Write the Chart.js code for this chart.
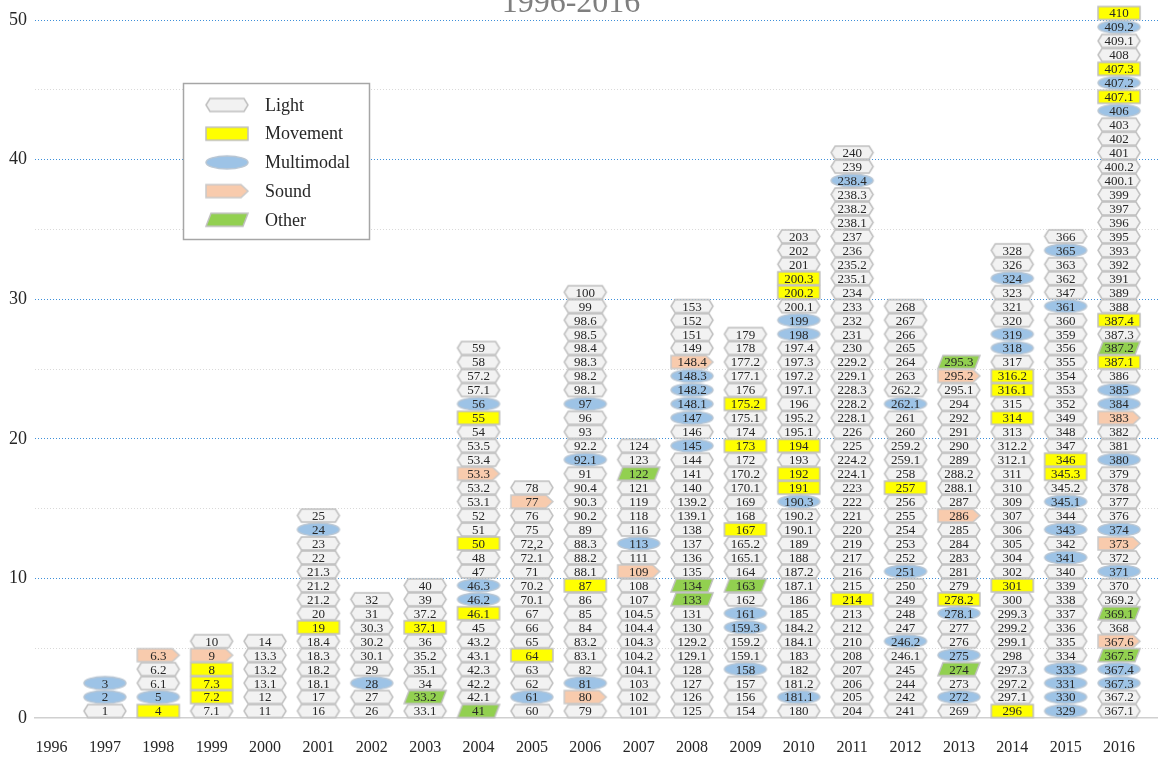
<!DOCTYPE html>
<html>
<head>
<meta charset="utf-8">
<script src="https://cdn.jsdelivr.net/npm/chart.js"></script>
<style>
  html, body { margin: 0; padding: 0; background: #fff; }
  #wrap { width: 1158px; height: 759px; }
</style>
</head>
<body>
<div id="wrap"><canvas id="chart" width="1158" height="759"></canvas></div>
<script>
// years on the x axis
const years = [1996, 1997, 1998, 1999, 2000, 2001, 2002, 2003, 2004, 2005, 2006,
               2007, 2008, 2009, 2010, 2011, 2012, 2013, 2014, 2015, 2016];

// token kinds and the suffix used for them in the stacks below
const kinds = ['Light', 'Movement', 'Multimodal', 'Sound', 'Other'];
const kindCodes = ['', 'y', 'b', 's', 'g'];
const kindFills = ['#f2f2f2', '#ffff00', '#9dc3e6', '#f8cbad', '#92d050'];
const kindStrokes = ['#bfbfbf', '#bfbfbf', '#b9c6d3', '#c9c9c9', '#bfbfbf'];

// one column per year, bottom to top
const stacks = [
  '',
  '1 2b 3b',
  '4y 5b 6.1 6.2 6.3s',
  '7.1 7.2y 7.3y 8y 9s 10',
  '11 12 13.1 13.2 13.3 14',
  '16 17 18.1 18.2 18.3 18.4 19y 20 21.2 21.2 21.3 22 23 24b 25',
  '26 27 28b 29 30.1 30.2 30.3 31 32',
  '33.1 33.2g 34 35.1 35.2 36 37.1y 37.2 39 40',
  '41g 42.1 42.2 42.3 43.1 43.2 45 46.1y 46.2b 46.3b 47 48 50y 51 52 53.1 53.2 53.3s 53.4 53.5 54 55y 56b 57.1 57.2 58 59',
  '60 61b 62 63 64y 65 66 67 70.1 70.2 71 72.1 72,2 75 76 77s 78',
  '79 80s 81b 82 83.1 83.2 84 85 86 87y 88.1 88.2 88.3 89 90.2 90.3 90.4 91 92.1b 92.2 93 96 97b 98.1 98.2 98.3 98.4 98.5 98.6 99 100',
  '101 102 103 104.1 104.2 104.3 104.4 104.5 107 108 109s 111 113b 116 118 119 121 122g 123 124',
  '125 126 127 128 129.1 129.2 130 131 133g 134g 135 136 137 138 139.1 139.2 140 141 144 145b 146 147b 148.1b 148.2b 148.3b 148.4s 149 151 152 153',
  '154 156 157 158b 159.1 159.2 159.3b 161b 162 163g 164 165.1 165.2 167y 168 169 170.1 170.2 172 173y 174 175.1 175.2y 176 177.1 177.2 178 179',
  '180 181.1b 181.2 182 183 184.1 184.2 185 186 187.1 187.2 188 189 190.1 190.2 190.3b 191y 192y 193 194y 195.1 195.2 196 197.1 197.2 197.3 197.4 198b 199b 200.1 200.2y 200.3y 201 202 203',
  '204 205 206 207 208 210 212 213 214y 215 216 217 219 220 221 222 223 224.1 224.2 225 226 228.1 228.2 228.3 229.1 229.2 230 231 232 233 234 235.1 235.2 236 237 238.1 238.2 238.3 238.4b 239 240',
  '241 242 244 245 246.1 246.2b 247 248 249 250 251b 252 253 254 255 256 257y 258 259.1 259.2 260 261 262.1b 262.2 263 264 265 266 267 268',
  '269 272b 273 274g 275b 276 277 278.1b 278.2y 279 281 283 284 285 286s 287 288.1 288.2 289 290 291 292 294 295.1 295.2s 295.3g',
  '296y 297.1 297.2 297.3 298 299.1 299.2 299.3 300 301y 302 304 305 306 307 309 310 311 312.1 312.2 313 314y 315 316.1y 316.2y 317 318b 319b 320 321 323 324b 326 328',
  '329b 330b 331b 333b 334 335 336 337 338 339 340 341b 342 343b 344 345.1b 345.2 345.3y 346y 347 348 349 352 353 354 355 356 359 360 361b 347 362 363 365b 366',
  '367.1 367.2 367.3b 367.4b 367.5g 367.6s 368 369.1g 369.2 370 371b 372 373s 374b 376 377 378 379 380b 381 382 383s 384b 385b 386 387.1y 387.2g 387.3 387.4y 388 389 391 392 393 395 396 397 399 400.1 400.2 401 402 403 406b 407.1y 407.2b 407.3y 408 409.1 409.2b 410y'
];

const yTickStep = 5;
const yMax = 50;
const titleText = '1996-2016';

const SERIF = '"Liberation Serif", "DejaVu Serif", serif';
const TOK_W = 42, TOK_H = 13;

function shapePath(ctx, k, cx, cy, w, h) {
  const l = cx - w / 2, r = cx + w / 2, t = cy - h / 2, b = cy + h / 2;
  ctx.beginPath();
  if (k === 0) {
    ctx.moveTo(l, cy); ctx.lineTo(l + 4, t); ctx.lineTo(r - 4, t);
    ctx.lineTo(r, cy); ctx.lineTo(r - 4, b); ctx.lineTo(l + 4, b);
  } else if (k === 1) {
    ctx.rect(l, t, w, h);
  } else if (k === 2) {
    ctx.ellipse(cx, cy, w / 2, h / 2, 0, 0, Math.PI * 2);
  } else if (k === 3) {
    ctx.moveTo(l, t); ctx.lineTo(r - 7, t); ctx.lineTo(r, cy);
    ctx.lineTo(r - 7, b); ctx.lineTo(l, b);
  } else {
    ctx.moveTo(l, b); ctx.lineTo(l + 5, t); ctx.lineTo(r, t); ctx.lineTo(r - 5, b);
  }
  ctx.closePath();
}

function makeSprite(k) {
  const c = document.createElement('canvas');
  c.width = TOK_W + 4; c.height = TOK_H + 4;
  const ctx = c.getContext('2d');
  shapePath(ctx, k, c.width / 2, c.height / 2, TOK_W, TOK_H);
  ctx.fillStyle = kindFills[k];
  ctx.fill();
  ctx.lineWidth = 1.5;
  ctx.strokeStyle = kindStrokes[k];
  ctx.stroke();
  return c;
}
const sprites = kinds.map((_, k) => makeSprite(k));

// build one scatter dataset per kind
const datasets = kinds.map((name, k) => ({
  label: name,
  data: [],
  pointStyle: sprites[k],
  pointRadius: 12,
  clip: false
}));
stacks.forEach((col, i) => {
  if (!col) return;
  col.split(' ').forEach((tok, j) => {
    const m = tok.match(/^([\d.,]+)([ybsg]?)$/);
    const k = kindCodes.indexOf(m[2]);
    datasets[k].data.push({ x: years[i], y: j + 0.5, t: m[1] });
  });
});

const tokenLabels = {
  id: 'tokenLabels',
  afterDatasetsDraw(chart) {
    const ctx = chart.ctx;
    ctx.save();
    ctx.font = '13px ' + SERIF;
    ctx.fillStyle = '#262626';
    ctx.textAlign = 'center';
    ctx.textBaseline = 'middle';
    chart.data.datasets.forEach((ds, di) => {
      chart.getDatasetMeta(di).data.forEach((pt, n) => {
        ctx.fillText(ds.data[n].t, pt.x, pt.y + 1);
      });
    });
    ctx.restore();
  }
};

const topTitle = {
  id: 'topTitle',
  afterDraw(chart) {
    const ctx = chart.ctx;
    ctx.save();
    ctx.font = '32px ' + SERIF;
    ctx.fillStyle = '#7f7f7f';
    ctx.textAlign = 'center';
    ctx.textBaseline = 'alphabetic';
    ctx.fillText(titleText, 571, 12);
    ctx.restore();
  }
};

const boxLegend = {
  id: 'boxLegend',
  afterDraw(chart) {
    const ctx = chart.ctx;
    ctx.save();
    ctx.fillStyle = '#ffffff';
    ctx.fillRect(183, 83, 187, 157);
    ctx.strokeStyle = '#a6a6a6';
    ctx.lineWidth = 1.5;
    ctx.strokeRect(183.5, 83.5, 186, 156);
    ctx.font = '18px ' + SERIF;
    ctx.fillStyle = '#262626';
    ctx.textAlign = 'left';
    ctx.textBaseline = 'middle';
    kinds.forEach((name, k) => {
      const cy = 105 + k * 28.7;
      const s = sprites[k];
      ctx.drawImage(s, 227 - s.width / 2, cy - s.height / 2);
      ctx.fillText(name, 265, cy + 1);
    });
    ctx.restore();
  }
};

new Chart(document.getElementById('chart'), {
  type: 'scatter',
  data: { datasets },
  options: {
    responsive: false,
    animation: false,
    events: [],
    layout: { autoPadding: false, padding: { top: 20, left: 9, right: 0, bottom: 0 } },
    plugins: {
      legend: { display: false },
      tooltip: { enabled: false }
    },
    scales: {
      x: {
        type: 'linear',
        min: 1995.69,
        max: 2016.73,
        afterBuildTicks: axis => { axis.ticks = years.map(v => ({ value: v })); },
        afterFit: s => { s.height = 41; s.paddingLeft = 0; s.paddingRight = 0; },
        ticks: {
          autoSkip: false,
          maxRotation: 0,
          padding: 20,
          color: '#262626',
          font: { family: SERIF, size: 16 },
          callback: v => String(v)
        },
        grid: { display: false, drawTicks: false },
        border: { display: true, color: '#d0d0d0', width: 1.5 }
      },
      y: {
        min: 0,
        max: yMax,
        afterFit: s => { s.width = 26; },
        ticks: {
          stepSize: yTickStep,
          padding: 8,
          color: '#262626',
          font: { family: SERIF, size: 18 },
          callback: v => (v % 10 === 0 ? String(v) : '')
        },
        grid: {
          drawTicks: false,
          lineWidth: 1,
          color: c => (c.tick && c.tick.value === 0) ? 'rgba(0,0,0,0)'
            : (c.tick && c.tick.value % 10 === 0 ? '#3d8fd9' : '#d9d9d9')
        },
        border: { display: false, dash: [1, 2] }
      }
    }
  },
  plugins: [tokenLabels, topTitle, boxLegend]
});
</script>
</body>
</html>
